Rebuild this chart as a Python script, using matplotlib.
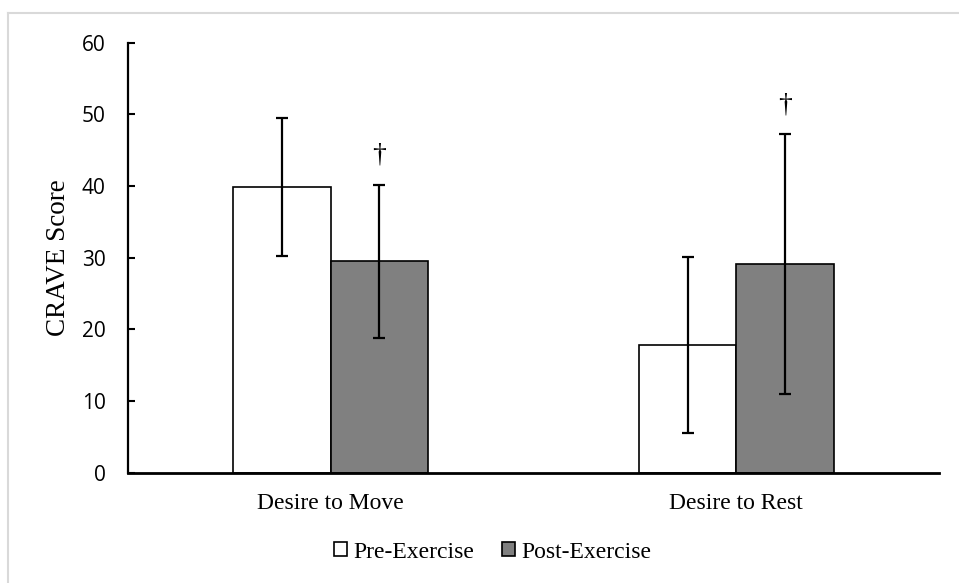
import matplotlib.pyplot as plt
import numpy as np
from matplotlib.lines import Line2D
from matplotlib.font_manager import FontProperties


categories = ["Desire to Move", "Desire to Rest"]
pre_mean = [39.9, 17.8]
pre_sd = [9.6, 12.3]
post_mean = [29.5, 29.1]
post_sd = [10.7, 18.1]
series_names = ["Pre-Exercise", "Post-Exercise"]
post_marks = ["\u2020", "\u2020"]
yticks = [0, 10, 20, 30, 40, 50, 60]


def main():
    fig = plt.figure(figsize=(9.59, 5.83), dpi=100)
    ax = fig.add_axes([128 / 959, 110.4 / 583, 811 / 959, 429.9 / 583])

    # light frame of the chart area
    fig.add_artist(Line2D([8 / 959, 8 / 959], [0, 1 - 13 / 583], color="#d9d9d9", lw=1.5))
    fig.add_artist(Line2D([8 / 959, 1], [1 - 13 / 583, 1 - 13 / 583], color="#d9d9d9", lw=1.5))

    x = np.arange(len(categories))
    w = 0.24
    err_kw = dict(ecolor="black", elinewidth=1.6, capsize=4.5, capthick=1.6)
    ax.bar(x - w / 2, pre_mean, w, yerr=pre_sd, color="white", edgecolor="black",
           linewidth=1.2, error_kw=err_kw, label=series_names[0], zorder=2)
    ax.bar(x + w / 2, post_mean, w, yerr=post_sd, color="#808080", edgecolor="black",
           linewidth=1.2, error_kw=err_kw, label=series_names[1], zorder=2)

    for i, mark in enumerate(post_marks):
        ax.annotate(mark, (x[i] + w / 2, post_mean[i] + post_sd[i]), xytext=(0, 12),
                    textcoords="offset points", ha="center", va="bottom",
                    fontsize=20, family="Liberation Serif")

    ax.set_xlim(-0.5, 1.5)
    ax.set_ylim(0, 60)
    ax.set_yticks(yticks)
    ax.set_yticklabels([str(t) for t in yticks], family="Open Sans", fontsize=15)
    ax.tick_params(axis="y", direction="in", length=5, width=1.5, pad=16)
    ax.set_xticks(x)
    ax.set_xticklabels(categories, family="Liberation Serif", fontsize=17)
    ax.tick_params(axis="x", length=0, pad=15)

    ax.set_ylabel("CRAVE Score", family="Liberation Serif", fontsize=19.5)
    ax.yaxis.set_label_coords(-0.0705, 0.5)

    for side in ["top", "right"]:
        ax.spines[side].set_visible(False)
    ax.spines["left"].set_linewidth(1.6)
    ax.spines["bottom"].set_linewidth(2)

    fig.legend(loc="center", bbox_to_anchor=(492.5 / 959, 31 / 583), ncol=2, frameon=False,
               prop=FontProperties(family="Liberation Serif", size=17), handlelength=0.55,
               handleheight=0.55, handletextpad=0.25, columnspacing=1.2)

    fig.savefig("out.png", dpi=100)


if __name__ == '__main__':
    main()
